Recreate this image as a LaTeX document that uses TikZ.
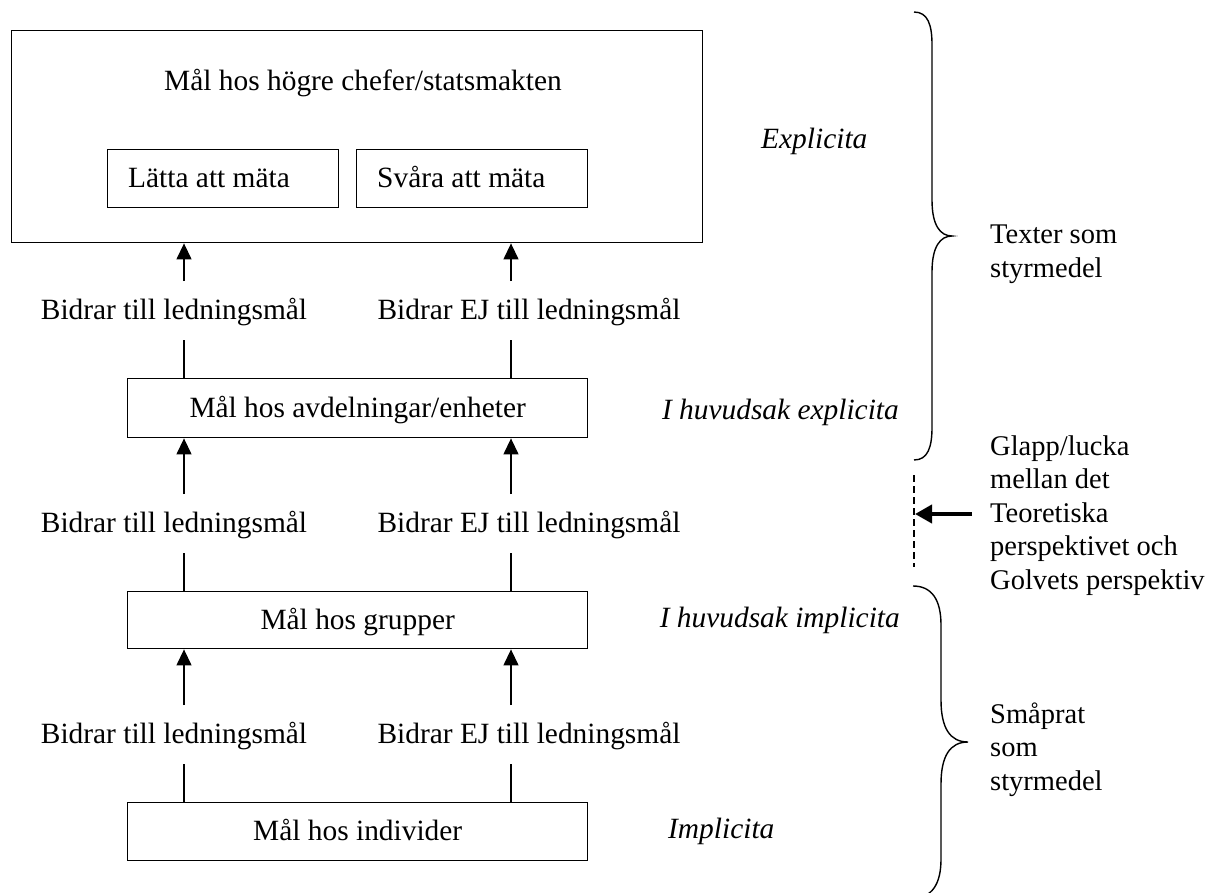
\documentclass[tikz,border=0pt]{standalone}
\usepackage{fontspec}
\setmainfont{Liberation Serif}
\usetikzlibrary{arrows.meta}
\begin{document}
\begin{tikzpicture}[x=1pt,y=-1pt,
  every node/.style={font=\fontsize{29.4}{35}\selectfont, inner sep=0pt},
  box/.style={draw, line width=1.4pt, anchor=north west,
    text height=21pt, text depth=3pt},
  subbox/.style={box, minimum width=231pt, minimum height=58pt},
  levelbox/.style={box, minimum width=460pt, minimum height=#1},
  lab/.style={anchor=base},
  note/.style={anchor=base west},
  side/.style={anchor=base west, font=\fontsize{28.5}{34}\selectfont},
  slant/.style={font=\fontsize{29.4}{35}\selectfont\itshape},
  arr/.style={line width=1.3pt, -{Triangle[length=16pt,width=15pt]}},
  tie/.style={line width=1.3pt},
  bracepath/.style={line width=1.4pt},
]
\useasboundingbox (0,0) rectangle (1228,892);

% top level box with its two sub boxes
\node[box, minimum width=691pt, minimum height=212pt] (top) at (11,30) {};
\node[lab] (toptext) at (363,90) {Mål hos högre chefer/statsmakten};
\node[subbox] (easy) at (107,149) {};
\node[subbox] (hard) at (356,149) {};
\node[note] (easyt) at (128,187) {Lätta att mäta};
\node[note] (hardt) at (377,187) {Svåra att mäta};

% lower levels
\node[levelbox=59pt] (dept) at (127,378) {Mål hos avdelningar/enheter};
\node[levelbox=57pt] (grp) at (127,591) {Mål hos grupper};
\node[levelbox=58pt] (ind) at (127,802) {Mål hos individer};

% contribution labels between levels
\node[lab] (c1) at (174,319) {Bidrar till ledningsmål};
\node[lab] (n1) at (529,319) {Bidrar EJ till ledningsmål};
\node[lab] (c2) at (174,532) {Bidrar till ledningsmål};
\node[lab] (n2) at (529,532) {Bidrar EJ till ledningsmål};
\node[lab] (c3) at (174,743) {Bidrar till ledningsmål};
\node[lab] (n3) at (529,743) {Bidrar EJ till ledningsmål};

% arrow tails and line ends
\coordinate (a1) at (184,281);  \coordinate (b1) at (511,281);
\coordinate (a2) at (184,494);  \coordinate (b2) at (511,494);
\coordinate (a3) at (184,705);  \coordinate (b3) at (511,705);
\coordinate (s1) at (184,340);  \coordinate (t1) at (511,340);
\coordinate (s2) at (184,553);  \coordinate (t2) at (511,553);
\coordinate (s3) at (184,764);  \coordinate (t3) at (511,764);

\draw[arr] (a1) -- (a1 |- top.south);
\draw[arr] (b1) -- (b1 |- top.south);
\draw[arr] (a2) -- (a2 |- dept.south);
\draw[arr] (b2) -- (b2 |- dept.south);
\draw[arr] (a3) -- (a3 |- grp.south);
\draw[arr] (b3) -- (b3 |- grp.south);
\draw[tie] (s1) -- (s1 |- dept.north);
\draw[tie] (t1) -- (t1 |- dept.north);
\draw[tie] (s2) -- (s2 |- grp.north);
\draw[tie] (t2) -- (t2 |- grp.north);
\draw[tie] (s3) -- (s3 |- ind.north);
\draw[tie] (t3) -- (t3 |- ind.north);

% degree of explicitness
\node[note, slant] (e1) at (761,148) {Explicita};
\node[anchor=base east, slant] (e2) at (899,419) {I huvudsak explicita};
\node[anchor=base east, slant] (e3) at (900,627) {I huvudsak implicita};
\node[note, slant] (e4) at (668,838) {Implicita};

% upper brace
\draw[bracepath] (914,12) .. controls (928,12) and (932,25) .. (932,45)
  -- (932,200) .. controls (932,225) and (940,236) .. (952,236)
  .. controls (940,236) and (932,247) .. (932,272)
  -- (932,427) .. controls (932,447) and (928,460) .. (914,460);
\node[side] (tx1) at (990,243) {Texter som};
\node[side] (tx2) at (990,277) {styrmedel};

% gap marker
\coordinate (gtop) at (914,475);
\coordinate (gbot) at (914,567);
\coordinate (gtip) at (915,514);
\coordinate (gtail) at (972,514);
\draw[line width=1.3pt, dash pattern=on 7pt off 4pt] (gtop) -- (gbot);
\draw[line width=4pt, -{Triangle[length=17pt,width=18pt]}] (gtail) -- (gtip);
\node[side] (g1) at (990,455) {Glapp/lucka};
\node[side] (g2) at (990,488.5) {mellan det};
\node[side] (g3) at (990,522) {Teoretiska};
\node[side] (g4) at (990,555.5) {perspektivet och};
\node[side] (g5) at (990,589) {Golvets perspektiv};

% lower brace, running past the bottom edge
\begin{scope}
\clip (0,0) rectangle (1228,892);
\draw[bracepath] (913,586) .. controls (932,586) and (941,600) .. (941,625)
  -- (941,700) .. controls (941,728) and (950,742) .. (968,742)
  .. controls (950,742) and (941,756) .. (941,784)
  -- (941,859) .. controls (941,884) and (932,898) .. (913,898);
\end{scope}
\node[side] (sm1) at (990,723) {Småprat};
\node[side] (sm2) at (990,756.5) {som};
\node[side] (sm3) at (990,790) {styrmedel};
\end{tikzpicture}
\end{document}
